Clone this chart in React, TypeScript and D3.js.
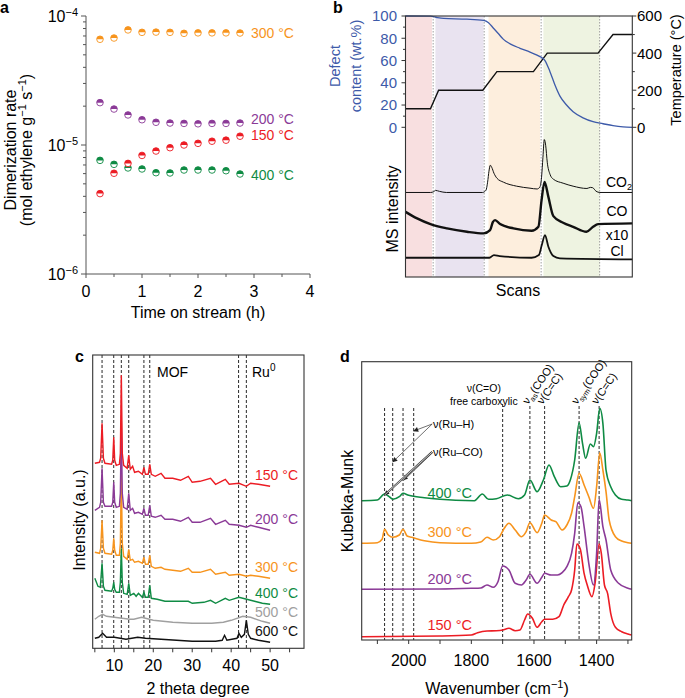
import React from "react";
import * as d3 from "d3";

const FONT = "'Liberation Sans', Arial, Helvetica, sans-serif";
const AXIS = "#333";

// ---------- a: dimerization rate vs time on stream ----------
const aTime = [0.25, 0.5, 0.75, 1, 1.25, 1.5, 1.75, 2, 2.25, 2.5, 2.75];
const aRate300 = [6.6e-5, 6.75e-5, 7.8e-5, 7.47e-5, 7.5e-5, 7.47e-5, 7.34e-5, 7.4e-5, 7.4e-5, 7.4e-5, 7.38e-5];
const aRate200 = [2.13e-5, 1.9e-5, 1.71e-5, 1.57e-5, 1.5e-5, 1.48e-5, 1.47e-5, 1.46e-5, 1.47e-5, 1.47e-5, 1.48e-5];
const aRate150 = [4.2e-6, 6.04e-6, 7.2e-6, 8.3e-6, 8.98e-6, 9.53e-6, 1.0e-5, 1.03e-5, 1.07e-5, 1.09e-5, 1.17e-5];
const aRate400 = [7.6e-6, 7.08e-6, 6.64e-6, 6.52e-6, 6.1e-6, 6.07e-6, 6.4e-6, 6.4e-6, 6.4e-6, 6.32e-6, 5.96e-6];
const aSeries = [
  { label: "400 °C", color: "#0f8b44", values: aRate400, dy: 1 },
  { label: "150 °C", color: "#ec1c24", values: aRate150, dy: -1 },
  { label: "200 °C", color: "#8b3a97", values: aRate200, dy: -4 },
  { label: "300 °C", color: "#f7941d", values: aRate300, dy: 0 },
];

// ---------- b: defect content, temperature, MS ----------
const bDefectScan = [0, 110, 139, 168, 271, 344, 366, 388, 410, 432, 461, 505, 549, 593, 615, 637, 659, 681, 710, 739, 783, 827, 871, 915, 959, 1000];
const bDefectWt = [100, 99.8, 98.6, 97.8, 97.2, 96, 94, 89, 84, 79, 75, 71, 67.5, 63.5, 60, 50, 38, 28, 20, 14, 8.5, 5, 3.2, 1.5, 0.4, 0];
const bTempScan = [0, 110, 146, 341, 403, 564, 625, 849, 915, 1000];
const bTempC = [100, 100, 200, 200, 300, 300, 400, 400, 500, 500];
const bBands = [
  { from: 0, to: 117, color: "#f8dfe0" },
  { from: 132, to: 344, color: "#e9e3f0" },
  { from: 366, to: 593, color: "#fdeedd" },
  { from: 608, to: 856, color: "#eef3e1" },
];
const bDividers = [122, 347, 598, 856];
const bCO2: [number, number][] = [[0, 84.7], [110, 84.7], [125, 85.5], [132, 86.8], [150, 85.8], [180, 84.7], [340, 84.7], [355, 87], [362, 95], [368, 106], [374, 112], [380, 110], [390, 104], [403, 99], [432, 95], [490, 91], [549, 89], [580, 88.2], [592, 90], [600, 100], [606, 120], [612, 137.7], [618, 132], [625, 115], [637, 103], [652, 98], [695, 94], [739, 91], [800, 88.7], [815, 89.8], [825, 89.5], [840, 86], [857, 84.7], [1000, 84.7]];
const bCO: [number, number][] = [[0, 65.3], [51, 58.7], [110, 53], [183, 48.7], [271, 45.3], [344, 43.7], [373, 47], [385, 55], [395, 57], [417, 53], [476, 48.7], [556, 46.3], [586, 50.3], [600, 77], [613, 95.3], [630, 80.3], [652, 61], [695, 54.3], [739, 50.3], [798, 45.3], [827, 50.3], [849, 53], [1000, 53.7]];
const bCl: [number, number][] = [[0, 19.3], [370, 19.3], [390, 22], [415, 21], [556, 19.3], [588, 22], [601, 32], [615, 42], [630, 30.3], [652, 21], [681, 18.7], [1000, 17.7]];

// ---------- c: XRD ----------
const cMarkers = [6.85, 9.85, 11.8, 13.7, 17.6, 19.1, 41.9, 43.9];
const cRed150: [number, number][] = [[5, 185], [6.2, 186], [6.5, 190], [6.85, 225], [7.2, 190], [7.6, 185], [9.3, 184], [9.6, 188], [9.85, 211], [10.1, 188], [10.5, 183], [11.3, 184], [11.55, 195], [11.8, 273], [12.05, 195], [12.4, 183], [13.3, 180], [13.7, 193], [14.1, 179], [14.7, 182], [15.2, 176], [16.2, 177], [17.2, 174], [17.6, 181], [18.0, 174], [18.7, 174], [19.1, 184], [19.5, 174], [20.5, 172], [22, 175], [23, 170], [25, 170], [27, 168], [29, 172], [30, 166], [32, 167], [34.7, 170], [36, 164], [38.5, 169], [39.5, 164], [42, 165], [43.9, 162], [45, 165], [47, 164], [50, 162]];
const cPurple200: [number, number][] = [[5, 138], [6.2, 141], [6.5, 146], [6.85, 180], [7.2, 146], [7.6, 142], [9.3, 142], [9.6, 146], [9.85, 166], [10.1, 146], [10.5, 141], [11.3, 142], [11.55, 155], [11.8, 228], [12.05, 155], [12.4, 141], [13.3, 139], [13.7, 155], [14.1, 138], [14.7, 140], [15.2, 135], [16.2, 136], [17.2, 134], [17.6, 140], [18.0, 133], [18.7, 133], [19.1, 143], [19.5, 132], [20.5, 131], [22, 133], [23, 129], [25, 129], [27, 127], [29, 131], [30, 126], [32, 126], [34.7, 130], [36, 124], [38.5, 128], [39.5, 124], [42, 123], [43.9, 121], [45, 123], [47, 121], [50, 118]];
const cOrange300: [number, number][] = [[5, 96], [6.2, 95], [6.5, 100], [6.85, 128], [7.2, 100], [7.6, 95], [9.3, 94], [9.6, 98], [9.85, 110], [10.1, 98], [10.5, 93], [11.3, 93], [11.55, 105], [11.8, 176], [12.05, 105], [12.4, 92], [13.3, 89], [13.7, 99], [14.1, 88], [14.7, 89], [15.2, 86], [16.2, 87], [17.2, 85], [17.6, 91], [18.0, 84], [18.7, 84], [19.1, 93], [19.5, 82], [20.5, 80], [22, 81], [23, 79], [25, 78], [27, 77], [29, 80], [30, 76], [32, 76], [34.7, 79], [36, 74], [38.5, 76], [39.5, 73], [42, 74], [43.9, 72], [45, 73], [47, 72], [50, 70]];
const cGreen400: [number, number][] = [[5, 70], [5.8, 62], [6.4, 61], [6.85, 85], [7.2, 62], [7.6, 58], [9.3, 57], [9.6, 60], [9.85, 66], [10.1, 59], [10.5, 56], [11.3, 56], [11.55, 66], [11.8, 100], [12.05, 66], [12.4, 55], [13.3, 54], [13.7, 65], [14.1, 53], [15, 55], [15.6, 52], [16.2, 55], [17.2, 51], [17.6, 56], [18.0, 51], [18.7, 51], [19.1, 63], [19.5, 50], [21, 49], [23, 47], [26, 47], [29, 47], [30, 45], [33, 46], [34.7, 48], [36, 45], [38.5, 50], [39.5, 48], [42, 51], [44, 49], [46, 47], [48, 45], [50, 44]];
const cGray500: [number, number][] = [[5, 29], [6, 32], [7, 34], [8, 32], [10, 31], [12, 30], [14, 29], [15, 29], [17, 31], [19, 29], [20, 28], [25, 26], [30, 25], [35, 25], [38, 26], [40, 28], [43, 32], [45, 31], [48, 27], [50, 25]];
const cBlack600: [number, number][] = [[5, 10], [6, 11], [7, 15], [8, 11], [10, 11], [13, 9], [16, 11], [18, 10], [22, 9], [26, 8], [30, 7], [36, 7], [37.7, 8], [38.3, 13], [38.9, 8], [41.5, 10], [42, 15], [42.6, 11], [43.4, 14], [43.9, 28], [44.4, 14], [45, 10], [47, 8], [50, 6]];
const cSeries = [
  { label: "150 °C", color: "#ec1c24", data: cRed150 },
  { label: "200 °C", color: "#8b3a97", data: cPurple200 },
  { label: "300 °C", color: "#f7941d", data: cOrange300 },
  { label: "400 °C", color: "#0f8b44", data: cGreen400 },
  { label: "500 °C", color: "#a0a0a0", data: cGray500 },
  { label: "600 °C", color: "#111111", data: cBlack600 },
];

// ---------- d: DRIFTS ----------
const dMarkers = [2077, 2051, 2018, 1984, 1700, 1613, 1566, 1456, 1392];
const dGreen400: [number, number][] = [[2150, 139.3], [2100, 140], [2077, 146], [2060, 142.7], [2050, 140.7], [2030, 143.3], [2018, 146.7], [2000, 144.7], [1950, 142.3], [1900, 140.7], [1850, 139.7], [1790, 139.3], [1765, 146], [1745, 140.7], [1720, 141.3], [1685, 145], [1650, 141.3], [1630, 145], [1613, 160], [1590, 148.3], [1570, 160], [1552, 175], [1535, 163.3], [1515, 153.3], [1495, 154], [1484, 160], [1470, 180], [1456, 217.3], [1445, 196.7], [1435, 181.7], [1420, 196], [1410, 193.3], [1400, 206.7], [1390, 231.7], [1380, 216.7], [1370, 170], [1355, 153.3], [1340, 145], [1320, 140.7], [1300, 140], [1288, 139.3]];
const dOrange300: [number, number][] = [[2150, 96.7], [2100, 97.3], [2085, 100.7], [2077, 110.7], [2065, 105], [2050, 102.7], [2030, 105], [2018, 110.7], [2005, 104], [1990, 102.7], [1950, 99.3], [1900, 97.3], [1800, 96.7], [1770, 98], [1750, 102.7], [1730, 100], [1710, 103.3], [1695, 111.7], [1680, 116.7], [1660, 110], [1640, 103.3], [1625, 108.3], [1613, 117.3], [1590, 107.3], [1575, 116.7], [1566, 125], [1545, 120], [1530, 118.3], [1510, 110], [1495, 115], [1480, 126.7], [1470, 143.3], [1456, 166.7], [1440, 155], [1425, 143.3], [1410, 131.7], [1400, 153.3], [1390, 187.3], [1380, 170], [1370, 148.3], [1360, 120], [1340, 103.3], [1320, 99], [1300, 97.3], [1288, 96.7]];
const dPurple200: [number, number][] = [[2150, 50.7], [1900, 51], [1800, 51.7], [1770, 52], [1750, 55], [1730, 52.7], [1715, 58.3], [1700, 74], [1680, 70], [1660, 56.7], [1640, 55], [1625, 60], [1613, 65.7], [1590, 56.7], [1575, 62.7], [1566, 66.7], [1545, 65], [1525, 65], [1510, 67.3], [1495, 73.3], [1480, 86.7], [1470, 106.7], [1460, 137.3], [1450, 133.3], [1440, 113.3], [1425, 76.7], [1410, 55], [1400, 86.7], [1392, 140.7], [1380, 113.3], [1370, 100], [1355, 70], [1330, 56.7], [1300, 51.7], [1288, 50.7]];
const dRed150: [number, number][] = [[2150, 3.3], [1900, 4], [1800, 5], [1780, 7.3], [1750, 9], [1720, 9.3], [1700, 10], [1680, 11.7], [1660, 9.3], [1645, 10], [1630, 20], [1620, 26], [1605, 21.7], [1590, 12.7], [1575, 18.3], [1566, 20.7], [1540, 20.7], [1520, 23.3], [1505, 35], [1490, 43.3], [1480, 50], [1470, 70], [1463, 96], [1452, 90.7], [1440, 66.7], [1430, 55], [1415, 43.3], [1405, 56.7], [1392, 96], [1385, 86.7], [1375, 55], [1365, 46.7], [1355, 26.7], [1340, 12.7], [1320, 8.3], [1300, 6], [1288, 5]];
const dSeries = [
  { label: "150 °C", color: "#ec1c24", data: dRed150, lx: 1940, ly: 15 },
  { label: "200 °C", color: "#8b3a97", data: dPurple200, lx: 1940, ly: 61 },
  { label: "300 °C", color: "#f7941d", data: dOrange300, lx: 1940, ly: 108 },
  { label: "400 °C", color: "#0f8b44", data: dGreen400, lx: 1940, ly: 147 },
];
// arrows: [from wavenumber, from KM, to wavenumber, to KM]
const dRuH = [[1925, 216, 1984, 209], [1925, 216, 2051, 178]];
const dRuCO = [[1925, 188, 2018, 160], [1925, 188, 2077, 145]];

const Sup = ({ t, size = 10 }: { t: string; size?: number }) => (
  <tspan dy={-6} fontSize={size}>{t}</tspan>
);

function PanelA() {
  const x = d3.scaleLinear().domain([0, 4]).range([86, 310]);
  const y = d3.scaleLog().domain([1e-6, 1e-4]).range([274, 16]);
  const minor = y.ticks();
  const major = [1e-6, 1e-5, 1e-4];
  const xt = d3.range(0, 4.01, 0.5);
  const r = 3.3;
  return (
    <g>
      <text x={0} y={13} fontSize={16} fontWeight="bold">a</text>
      <line x1={86} x2={86} y1={y(1e-4)} y2={y(1e-6)} stroke="#555" />
      <line x1={86} x2={310} y1={274} y2={274} stroke="#555" />
      {minor.map((v, i) => (
        <line key={i} x1={86} x2={major.includes(v) ? 81 : 83} y1={y(v)} y2={y(v)} stroke="#555" />
      ))}
      {major.map((v, i) => (
        <text key={i} x={78} y={y(v)} dy="0.4em" textAnchor="end" fontSize={16}>
          10<Sup t={"−" + Math.round(-Math.log10(v))} size={11} />
        </text>
      ))}
      {xt.map((v, i) => (
        <line key={i} x1={x(v)} x2={x(v)} y1={274} y2={v % 1 === 0 ? 278 : 277} stroke="#555" />
      ))}
      {d3.range(0, 5).map((v) => (
        <text key={v} x={x(v)} y={291} dy="0.35em" textAnchor="middle" fontSize={16}>{v}</text>
      ))}
      <text x={198} y={312} dy="0.35em" textAnchor="middle" fontSize={16}>Time on stream (h)</text>
      <text transform="translate(16,150) rotate(-90)" textAnchor="middle" fontSize={16}>Dimerization rate</text>
      <text transform="translate(32,150) rotate(-90)" textAnchor="middle" fontSize={16}>
        (mol ethylene g<Sup t="−1" size={11} /><tspan dy={6}> s</tspan><Sup t="−1" size={11} /><tspan dy={6}>)</tspan>
      </text>
      {aSeries.map((s) => (
        <g key={s.label}>
          {s.values.map((v, i) => (
            <g key={i} transform={`translate(${x(aTime[i])},${y(v)})`}>
              <circle r={r} fill="#fff" stroke={s.color} strokeWidth={0.9} />
              <path d={`M${-r},0 A${r},${r} 0 0 1 ${r},0 Z`} fill={s.color} />
            </g>
          ))}
          <text x={x(aTime[aTime.length - 1]) + 11} y={y(s.values[s.values.length - 1]) + s.dy} dy="0.35em" fontSize={14} fill={s.color}>
            {s.label}
          </text>
        </g>
      ))}
    </g>
  );
}

function PanelB() {
  const L = 405.5, R = 632.3, T = 16, M = 127.3, B = 277;
  const x = d3.scaleLinear().domain([0, 1000]).range([L, R]);
  const yDef = d3.scaleLinear().domain([0, 100]).range([M, T]);
  const yTemp = d3.scaleLinear().domain([0, 600]).range([M, T]);
  const yMS = d3.scaleLinear().domain([0, 150]).range([B, M]);
  const blue = "#3d5aa9";
  const defLine = d3.line<number>().x((_, i) => x(bDefectScan[i])).y((d) => yDef(d)).curve(d3.curveMonotoneX);
  const tempLine = d3.line<number>().x((_, i) => x(bTempScan[i])).y((d) => yTemp(d)).curve(d3.curveLinear);
  const ms = d3.line<[number, number]>().x((d) => x(d[0])).y((d) => yMS(d[1])).curve(d3.curveMonotoneX);
  return (
    <g>
      <text x={333} y={13} fontSize={16} fontWeight="bold">b</text>
      {bBands.map((b, i) => (
        <rect key={i} x={x(b.from)} width={x(b.to) - x(b.from)} y={T} height={B - T} fill={b.color} />
      ))}
      {bDividers.map((d, i) => (
        <line key={i} x1={x(d)} x2={x(d)} y1={T} y2={B} stroke="#888" strokeWidth={0.8} strokeDasharray="1.5,1.5" />
      ))}
      <path d={tempLine(bTempC) || ""} fill="none" stroke="#111" strokeWidth={1.4} />
      <path d={defLine(bDefectWt) || ""} fill="none" stroke={blue} strokeWidth={1.3} />
      <path d={ms(bCO2) || ""} fill="none" stroke="#111" strokeWidth={1} />
      <path d={ms(bCO) || ""} fill="none" stroke="#111" strokeWidth={2.4} />
      <path d={ms(bCl) || ""} fill="none" stroke="#111" strokeWidth={1.8} />
      <rect x={L} y={T} width={R - L} height={B - T} fill="none" stroke={AXIS} strokeWidth={1.1} />
      {d3.range(0, 101, 10).map((v) => (
        <line key={v} x1={L} x2={v % 20 === 0 ? L - 4 : L - 2.5} y1={yDef(v)} y2={yDef(v)} stroke={AXIS} />
      ))}
      {d3.range(0, 101, 20).map((v) => (
        <text key={v} x={397} y={yDef(v)} dy="0.36em" textAnchor="end" fontSize={15} fill={blue}>{v}</text>
      ))}
      {d3.range(0, 601, 100).map((v) => (
        <line key={v} x1={R} x2={v % 200 === 0 ? R + 4 : R + 2.5} y1={yTemp(v)} y2={yTemp(v)} stroke={AXIS} />
      ))}
      {d3.range(0, 601, 200).map((v) => (
        <text key={v} x={637} y={yTemp(v)} dy="0.36em" fontSize={15}>{v}</text>
      ))}
      <text transform="translate(681,70) rotate(-90)" textAnchor="middle" fontSize={14.5}>Temperature (°C)</text>
      <text transform="translate(340,66) rotate(-90)" textAnchor="middle" fontSize={14.5} fill={blue}>Defect</text>
      <text transform="translate(361,66) rotate(-90)" textAnchor="middle" fontSize={14.5} fill={blue}>content (wt.%)</text>
      <text transform="translate(398,209) rotate(-90)" textAnchor="middle" fontSize={16}>MS intensity</text>
      <text x={518} y={290} dy="0.35em" textAnchor="middle" fontSize={16}>Scans</text>
      <text x={606} y={182} dy="0.35em" fontSize={14}>CO<tspan dy={3} fontSize={9}>2</tspan></text>
      <text x={617} y={211} dy="0.35em" textAnchor="middle" fontSize={14}>CO</text>
      <text x={617} y={235} dy="0.35em" textAnchor="middle" fontSize={14}>x10</text>
      <text x={617} y={251} dy="0.35em" textAnchor="middle" fontSize={14}>Cl</text>
    </g>
  );
}

function PanelC() {
  const L = 92.7, R = 304, T = 355, B = 648.3;
  const x = d3.scaleLinear().domain([4.45, 58.7]).range([L, R]);
  const y = d3.scaleLinear().domain([0, B - T]).range([B, T]);
  const line = d3.line<[number, number]>().x((d) => x(d[0])).y((d) => y(d[1]));
  return (
    <g>
      <text x={75} y={362} fontSize={16} fontWeight="bold">c</text>
      {cMarkers.map((m, i) => (
        <line key={i} x1={x(m)} x2={x(m)} y1={T} y2={B} stroke="#111" strokeWidth={0.9} strokeDasharray="3,2" />
      ))}
      {cSeries.slice().reverse().map((s) => (
        <path key={s.label} d={line(s.data) || ""} fill="none" stroke={s.color} strokeWidth={1.4} />
      ))}
      {cSeries.map((s) => (
        <text key={s.label} x={298} y={y(s.data[s.data.length - 1][1]) - 11} dy="0.35em" textAnchor="end" fontSize={14} fill={s.color}>
          {s.label}
        </text>
      ))}
      <text x={157} y={372} dy="0.35em" fontSize={14}>MOF</text>
      <text x={252} y={372} dy="0.35em" fontSize={14}>Ru<Sup t="0" /></text>
      <rect x={L} y={T} width={R - L} height={B - T} fill="none" stroke={AXIS} strokeWidth={1.1} />
      {d3.range(5, 56, 5).map((v) => (
        <line key={v} x1={x(v)} x2={x(v)} y1={B} y2={B + 4} stroke={AXIS} />
      ))}
      {d3.range(10, 51, 10).map((v) => (
        <text key={v} x={x(v)} y={665} dy="0.35em" textAnchor="middle" fontSize={16}>{v}</text>
      ))}
      <text x={198} y={688} dy="0.35em" textAnchor="middle" fontSize={16}>2 theta degree</text>
      <text transform="translate(85,520) rotate(-90)" textAnchor="middle" fontSize={16}>Intensity (a.u.)</text>
    </g>
  );
}

function PanelD() {
  const L = 361.7, R = 631.7, T = 361.7, B = 640;
  const x = d3.scaleLinear().domain([2150, 1288]).range([L, R]);
  const y = d3.scaleLinear().domain([0, B - T]).range([B, T]);
  const line = d3.line<[number, number]>().x((d) => x(d[0])).y((d) => y(d[1])).curve(d3.curveMonotoneX);
  const rot = [
    { w: 1613, main: "ν", sub: "as", rest: "(COO)" },
    { w: 1566, main: "ν(C=C)", sub: "", rest: "" },
    { w: 1456, main: "ν", sub: "sym", rest: "(COO)" },
    { w: 1392, main: "ν(C=C)", sub: "", rest: "" },
  ];
  return (
    <g>
      <defs>
        <marker id="arrD" viewBox="0 0 10 10" refX={9} refY={5} markerWidth={7} markerHeight={5} markerUnits="userSpaceOnUse" orient="auto">
          <path d="M0,0 L10,5 L0,10 z" fill="#222" />
        </marker>
      </defs>
      <text x={340} y={362} fontSize={16} fontWeight="bold">d</text>
      {dMarkers.map((m, i) => (
        <line key={i} x1={x(m)} x2={x(m)} y1={m > 1900 ? 408 : m === 1700 ? 404 : 406} y2={B} stroke="#111" strokeWidth={0.9} strokeDasharray="3,2" />
      ))}
      {dSeries.map((s) => (
        <path key={s.label} d={line(s.data) || ""} fill="none" stroke={s.color} strokeWidth={1.6} />
      ))}
      {dSeries.map((s) => (
        <text key={s.label} x={x(s.lx)} y={y(s.ly)} dy="0.35em" fontSize={14.5} fill={s.color}>{s.label}</text>
      ))}
      <rect x={L} y={T} width={R - L} height={B - T} fill="none" stroke={AXIS} strokeWidth={1.1} />
      {d3.range(1300, 2101, 100).map((v) => (
        <line key={v} x1={x(v)} x2={x(v)} y1={B} y2={B + 4} stroke={AXIS} />
      ))}
      {d3.range(1400, 2001, 200).map((v) => (
        <text key={v} x={x(v)} y={660} dy="0.35em" textAnchor="middle" fontSize={16}>{v}</text>
      ))}
      <text x={497} y={688} dy="0.35em" textAnchor="middle" fontSize={16}>
        Wavenumber (cm<Sup t="−1" size={11} /><tspan dy={6}>)</tspan>
      </text>
      <text transform="translate(353,501) rotate(-90)" textAnchor="middle" fontSize={16}>Kubelka-Munk</text>
      <text x={x(1760)} y={388} dy="0.35em" textAnchor="middle" fontSize={10.5}>ν(C=O)</text>
      <text x={x(1760)} y={401} dy="0.35em" textAnchor="middle" fontSize={10.5}>free carboxylic</text>
      {rot.map((r) => (
        <text key={r.w} transform={`translate(${x(r.w) - 2},405) rotate(-55)`} fontSize={11}>
          {r.main}
          {r.sub && <tspan dy={3} fontSize={7.5}>{r.sub}</tspan>}
          {r.rest && <tspan dy={-3}>{r.rest}</tspan>}
        </text>
      ))}
      {dRuH.map((a, i) => (
        <line key={i} x1={x(a[0])} y1={y(a[1])} x2={x(a[2])} y2={y(a[3])} stroke="#333" strokeWidth={0.7} markerEnd="url(#arrD)" />
      ))}
      {dRuCO.map((a, i) => (
        <g key={i}>
          <line x1={x(a[0])} y1={y(a[1])} x2={x(a[2])} y2={y(a[3])} stroke="#444" strokeWidth={2} markerEnd="url(#arrD)" />
          <line x1={x(a[0])} y1={y(a[1])} x2={x(a[2])} y2={y(a[3])} stroke="#fff" strokeWidth={0.7} />
        </g>
      ))}
      <text x={x(1922)} y={y(216)} dy="0.35em" fontSize={11}>ν(Ru–H)</text>
      <text x={x(1922)} y={y(188)} dy="0.35em" fontSize={11}>ν(Ru–CO)</text>
    </g>
  );
}

export default function App() {
  return (
    <div style={{ position: "absolute", left: 0, top: 0 }}>
      <svg width={685} height={698} style={{ display: "block", fontFamily: FONT, background: "#fff" }}>
        <PanelA />
        <PanelB />
        <PanelC />
        <PanelD />
      </svg>
    </div>
  );
}
